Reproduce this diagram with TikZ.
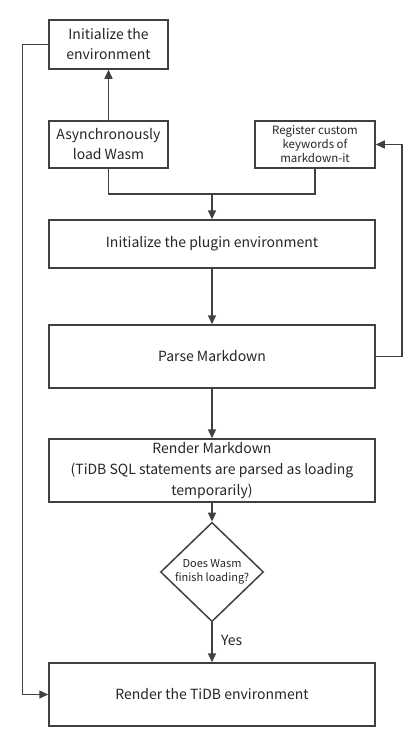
\documentclass[tikz,border=0pt]{standalone}
\usepackage{fontspec}
\setmainfont{Noto Sans CJK SC}
\usetikzlibrary{shapes.geometric,arrows.meta}
\begin{document}
\begin{tikzpicture}[x=1pt,y=-1pt,
  line/.style={draw=black!75,line width=1.5pt},
  arr/.style={line,-{Triangle[length=9pt,width=8pt]}},
  box/.style={draw=black!75,line width=1.5pt,fill=white,inner sep=0pt,align=center,
    font=\fontsize{14}{20}\selectfont,text=black!85},
  dia/.style={diamond,draw=black!75,line width=1.5pt,fill=white,inner sep=0pt,align=center,
    minimum width=103pt,minimum height=68pt,font=\fontsize{11}{14.5}\selectfont,text=black!85}]
\useasboundingbox (0,0) rectangle (417,747);
\node[box,minimum width=119pt,minimum height=49pt] (initenv) at (108.5,44.5) {Initialize the\\environment};
\node[box,minimum width=119pt,minimum height=47pt] (async) at (108.5,144.5) {Asynchronously\\load Wasm};
\node[box,minimum width=120pt,minimum height=47pt,font=\fontsize{11.5}{14}\selectfont] (register) at (315,144.5) {Register custom\\keywords of\\markdown-it};
\node[box,minimum width=326pt,minimum height=48pt] (plugin) at (212,244) {Initialize the plugin environment};
\node[box,minimum width=326pt,minimum height=63pt] (parse) at (212,356.5) {Parse Markdown};
\node[box,minimum width=326pt,minimum height=63pt,font=\fontsize{14}{21}\selectfont] (render) at (212,470.5) {Render Markdown\\(TiDB SQL statements are parsed as loading\\temporarily)};
\node[dia] (check) at (212,572) {Does Wasm\\finish loading?};
\node[box,minimum width=326pt,minimum height=63pt] (tidb) at (212,694.5) {Render the TiDB environment};
\coordinate (J) at (212,194);
\draw[arr] (async.north) -- (initenv.south);
\draw[line] (async.south) |- (J);
\draw[line] (register.south) |- (J);
\draw[arr] (J) -- (plugin.north);
\draw[arr] (plugin.south) -- (parse.north);
\draw[arr] (parse.south) -- (render.north);
\draw[arr] (render.south) -- (check.north);
\draw[arr] (check.south) -- node[right=5pt,font=\fontsize{14}{16}\selectfont,text=black!85,pos=0.45]{Yes} (tidb.north);
\draw[arr] (parse.east) -- ++(26,0) |- (register.east);
\draw[arr] (initenv.west) -- ++(-26,0) |- (tidb.west);
\end{tikzpicture}
\end{document}
